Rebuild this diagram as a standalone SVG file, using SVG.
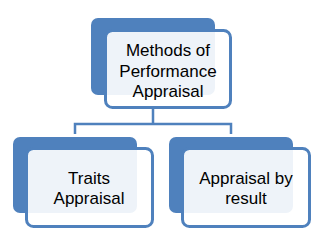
<svg xmlns="http://www.w3.org/2000/svg" width="331" height="251" viewBox="0 0 331 251">
<style>
.back{fill:#4f81bd;}
.front{fill:#ffffff;fill-opacity:0.9;stroke:#4f81bd;stroke-width:3;}
.conn{fill:none;stroke:#4f81bd;stroke-width:2.5;}
text{font-family:"Liberation Sans",Arial,sans-serif;font-size:17px;fill:#000;text-anchor:middle;}
</style>
<rect width="331" height="251" fill="#ffffff"/>
<g id="connectors">
<path class="conn" d="M153,108 V124 M75,134 V124 H231 V134"/>
</g>
<g id="node-methods">
<rect class="back" x="91" y="18" width="124" height="77" rx="7"/>
<rect class="front" x="105.5" y="30.5" width="125" height="77" rx="7"/>
<text x="168" y="56">Methods of</text>
<text x="168" y="77">Performance</text>
<text x="168" y="97">Appraisal</text>
</g>
<g id="node-traits">
<rect class="back" x="13" y="137" width="124" height="76" rx="7"/>
<rect class="front" x="26.5" y="148.5" width="126" height="78" rx="7"/>
<text x="89" y="184">Traits</text>
<text x="89" y="204">Appraisal</text>
</g>
<g id="node-result">
<rect class="back" x="169" y="137" width="124" height="76" rx="7"/>
<rect class="front" x="182.5" y="148.5" width="127" height="78" rx="7"/>
<text x="246" y="184">Appraisal by</text>
<text x="246" y="204">result</text>
</g>
</svg>
